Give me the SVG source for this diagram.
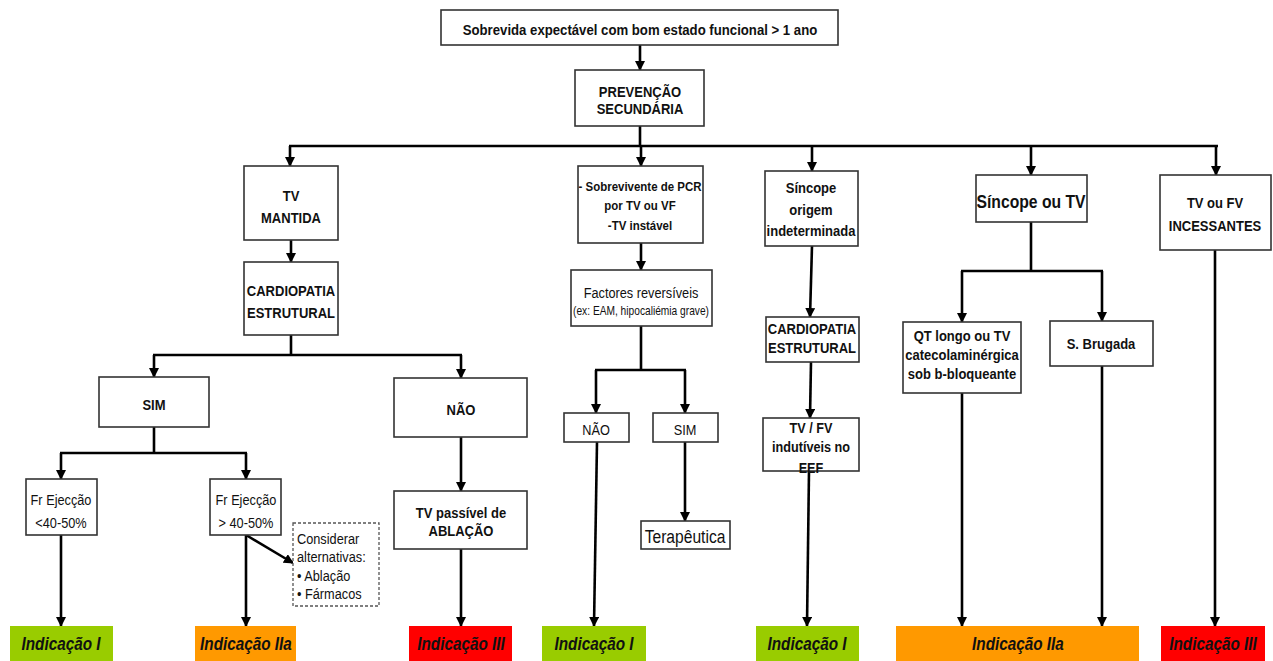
<svg xmlns="http://www.w3.org/2000/svg" width="1273" height="661" viewBox="0 0 1273 661">
<style>
.box{fill:#fff;stroke:#333;stroke-width:1.6}
.dash{fill:#fff;stroke:#555;stroke-width:1.3;stroke-dasharray:3,2}
.t{font-family:"Liberation Sans",Arial,sans-serif;fill:#111;text-anchor:middle;transform-box:fill-box;transform-origin:center;transform:scaleX(0.85)}
.l{text-anchor:start;transform-origin:left center}
.b{font-weight:bold;font-size:15.3px}
.n{font-size:15px}
.ind{font-family:"Liberation Sans",Arial,sans-serif;font-weight:bold;font-style:italic;font-size:18px;fill:#111;text-anchor:middle;transform-box:fill-box;transform-origin:center;transform:scaleX(0.85)}
.c{fill:none;stroke:#000;stroke-width:2.6}
.g{fill:#99cc00}.o{fill:#ff9900}.r{fill:#ff0000}
</style>
<defs>
<marker id="ar" markerUnits="userSpaceOnUse" markerWidth="10" markerHeight="10" refX="9" refY="5" orient="auto" viewBox="0 0 10 10">
<path d="M0,0 L10,5 L0,10 Z" fill="#000"/>
</marker>
</defs>

<g id="connectors">
<path class="c" d="M640,45 V70" marker-end="url(#ar)"/>
<path class="c" d="M640,126 V146 M289,146 H1218"/>
<path class="c" d="M290,146 V166" marker-end="url(#ar)"/>
<path class="c" d="M641,146 V166" marker-end="url(#ar)"/>
<path class="c" d="M812,146 V171" marker-end="url(#ar)"/>
<path class="c" d="M1031,146 V175" marker-end="url(#ar)"/>
<path class="c" d="M1216,146 V175" marker-end="url(#ar)"/>
<path class="c" d="M291,240 V262" marker-end="url(#ar)"/>
<path class="c" d="M291,335 V355 M153,355 H462"/>
<path class="c" d="M154,355 V377" marker-end="url(#ar)"/>
<path class="c" d="M461,355 V378" marker-end="url(#ar)"/>
<path class="c" d="M154,427 V453 M60,453 H247"/>
<path class="c" d="M61,453 V479" marker-end="url(#ar)"/>
<path class="c" d="M246,453 V479" marker-end="url(#ar)"/>
<path class="c" d="M61,535 V626" marker-end="url(#ar)"/>
<path class="c" d="M246,535 V626" marker-end="url(#ar)"/>
<path class="c" d="M246,535 L293,563" marker-end="url(#ar)"/>
<path class="c" d="M461,437 V491" marker-end="url(#ar)"/>
<path class="c" d="M461,549 V626" marker-end="url(#ar)"/>
<path class="c" d="M641,243 V270" marker-end="url(#ar)"/>
<path class="c" d="M641,326 V370 M595,370 H686"/>
<path class="c" d="M596,370 V413" marker-end="url(#ar)"/>
<path class="c" d="M685,370 V413" marker-end="url(#ar)"/>
<path class="c" d="M597,442 L594,626" marker-end="url(#ar)"/>
<path class="c" d="M685,442 V521" marker-end="url(#ar)"/>
<path class="c" d="M812,246 L810,317" marker-end="url(#ar)"/>
<path class="c" d="M811,362 L810,418" marker-end="url(#ar)"/>
<path class="c" d="M809,471 L807,626" marker-end="url(#ar)"/>
<path class="c" d="M1031,222 V271 M961,271 H1103"/>
<path class="c" d="M962,271 V322" marker-end="url(#ar)"/>
<path class="c" d="M1102,271 V321" marker-end="url(#ar)"/>
<path class="c" d="M962,393 V626" marker-end="url(#ar)"/>
<path class="c" d="M1102,366 V626" marker-end="url(#ar)"/>
<path class="c" d="M1215,250 V626" marker-end="url(#ar)"/>
</g>

<g id="n-top"><rect class="box" x="441" y="10" width="397" height="35"/>
<text class="t b" x="640" y="35.5" style="font-size:15.5px">Sobrevida expectável com bom estado funcional &gt; 1 ano</text></g>

<g id="n-prev"><rect class="box" x="575" y="70" width="129" height="56"/>
<text class="t b" x="640" y="97">PREVENÇÃO</text>
<text class="t b" x="640" y="114">SECUNDÁRIA</text></g>

<g id="n-tvm"><rect class="box" x="244" y="166" width="94" height="74"/>
<text class="t b" x="291" y="201">TV</text>
<text class="t b" x="291" y="223">MANTIDA</text></g>

<g id="n-card1"><rect class="box" x="244" y="262" width="94" height="73"/>
<text class="t b" x="291" y="296">CARDIOPATIA</text>
<text class="t b" x="291" y="318">ESTRUTURAL</text></g>

<g id="n-sim1"><rect class="box" x="99" y="377" width="110" height="50"/>
<text class="t b" x="154" y="410">SIM</text></g>

<g id="n-nao1"><rect class="box" x="394" y="378" width="133" height="59"/>
<text class="t b" x="461" y="415">NÃO</text></g>

<g id="n-fe1"><rect class="box" x="26" y="479" width="71" height="56"/>
<text class="t n" x="61" y="505">Fr Ejecção</text>
<text class="t n" x="61" y="528">&lt;40-50%</text></g>

<g id="n-fe2"><rect class="box" x="210" y="479" width="71" height="56"/>
<text class="t n" x="246" y="505">Fr Ejecção</text>
<text class="t n" x="246" y="528">&gt; 40-50%</text></g>

<g id="n-cons"><rect class="dash" x="293" y="523" width="86" height="83"/>
<text class="t n l" x="297" y="544">Considerar</text>
<text class="t n l" x="297" y="562">alternativas:</text>
<text class="t n l" x="297" y="581">• Ablação</text>
<text class="t n l" x="297" y="599">• Fármacos</text></g>

<g id="n-abl"><rect class="box" x="394" y="491" width="133" height="58"/>
<text class="t b" x="461" y="518">TV passível de</text>
<text class="t b" x="461" y="536">ABLAÇÃO</text></g>

<g id="n-pcr"><rect class="box" x="578" y="166" width="125" height="77"/>
<text class="t b" x="640" y="191" style="font-size:13.5px">- Sobrevivente de PCR</text>
<text class="t b" x="640" y="210" style="font-size:13.5px">por TV ou VF</text>
<text class="t b" x="640" y="230" style="font-size:13.5px">-TV instável</text></g>

<g id="n-fact"><rect class="box" x="571" y="270" width="141" height="56"/>
<text class="t n" x="641" y="298">Factores reversíveis</text>
<text class="t" x="641" y="315" style="font-size:12px">(ex: EAM, hipocaliémia grave)</text></g>

<g id="n-nao2"><rect class="box" x="564" y="413" width="65" height="29"/>
<text class="t n" x="596" y="435">NÃO</text></g>

<g id="n-sim2"><rect class="box" x="653" y="413" width="65" height="29"/>
<text class="t n" x="685" y="435">SIM</text></g>

<g id="n-ter"><rect class="box" x="641" y="521" width="89" height="28"/>
<text class="t" x="685" y="543" style="font-size:18.4px">Terapêutica</text></g>

<g id="n-sinc"><rect class="box" x="765" y="171" width="93" height="75"/>
<text class="t b" x="811" y="193">Síncope</text>
<text class="t b" x="811" y="215">origem</text>
<text class="t b" x="811" y="236">indeterminada</text></g>

<g id="n-card2"><rect class="box" x="766" y="317" width="93" height="45"/>
<text class="t b" x="812" y="334">CARDIOPATIA</text>
<text class="t b" x="812" y="353">ESTRUTURAL</text></g>

<g id="n-eef"><rect class="box" x="763" y="418" width="96" height="53"/>
<text class="t b" x="811" y="433" style="font-size:14.9px">TV / FV</text>
<text class="t b" x="811" y="452" style="font-size:14.9px">indutíveis no</text>
<text class="t b" x="811" y="473" style="font-size:14.9px">EEF</text></g>

<g id="n-stv"><rect class="box" x="976" y="175" width="111" height="47"/>
<text class="t b" x="1031" y="208" style="font-size:18.5px">Síncope ou TV</text></g>

<g id="n-qt"><rect class="box" x="903" y="322" width="118" height="71"/>
<text class="t b" x="962" y="341">QT longo ou TV</text>
<text class="t b" x="962" y="360">catecolaminérgica</text>
<text class="t b" x="962" y="379">sob b-bloqueante</text></g>

<g id="n-brug"><rect class="box" x="1050" y="321" width="103" height="45"/>
<text class="t b" x="1101" y="349">S. Brugada</text></g>

<g id="n-inc"><rect class="box" x="1160" y="175" width="111" height="75"/>
<text class="t b" x="1215" y="208">TV ou FV</text>
<text class="t b" x="1215" y="231">INCESSANTES</text></g>

<g id="i1"><rect class="g" x="10" y="626" width="103" height="35"/><text class="ind" x="61" y="650">Indicação I</text></g>
<g id="i2"><rect class="o" x="195" y="626" width="101" height="35"/><text class="ind" x="246" y="650">Indicação IIa</text></g>
<g id="i3"><rect class="r" x="409" y="626" width="103" height="35"/><text class="ind" x="461" y="650">Indicação III</text></g>
<g id="i4"><rect class="g" x="542" y="626" width="104" height="35"/><text class="ind" x="594" y="650">Indicação I</text></g>
<g id="i5"><rect class="g" x="756" y="626" width="103" height="35"/><text class="ind" x="807" y="650">Indicação I</text></g>
<g id="i6"><rect class="o" x="896" y="626" width="243" height="35"/><text class="ind" x="1018" y="650">Indicação IIa</text></g>
<g id="i7"><rect class="r" x="1161" y="626" width="104" height="35"/><text class="ind" x="1213" y="650">Indicação III</text></g>
</svg>
